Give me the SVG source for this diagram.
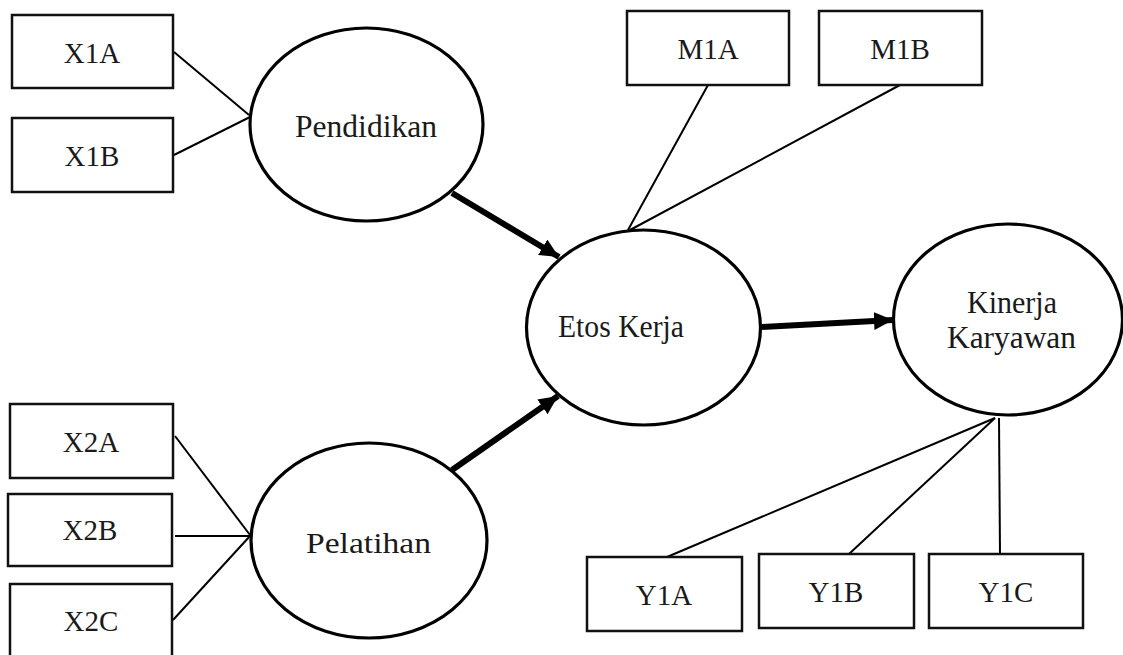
<svg xmlns="http://www.w3.org/2000/svg" width="1123" height="655" viewBox="0 0 1123 655">
<style>
.box{fill:#fff;stroke:#111;stroke-width:2.5}
.ell{fill:#fff;stroke:#000;stroke-width:3.2}
.t{font-family:"Liberation Serif","Times New Roman",serif;font-size:29px;fill:#1a1a1a;text-anchor:middle}
.e{font-size:32px}
.ln{stroke:#000;stroke-width:2;fill:none}
.ar{stroke:#000;stroke-width:6;fill:none;marker-end:url(#ah)}
</style>
<defs>
<marker id="ah" markerUnits="userSpaceOnUse" markerWidth="20" markerHeight="18" refX="19" refY="9" orient="auto">
<path d="M0,0 L19,9 L0,18 Z" fill="#000"/>
</marker>
</defs>
<rect width="1123" height="655" fill="#fff"/>
<g id="connectors">
<line class="ln" x1="174" y1="52" x2="249" y2="115"/>
<line class="ln" x1="174" y1="155" x2="250" y2="117"/>
<line class="ln" x1="175" y1="436" x2="250" y2="535"/>
<line class="ln" x1="175" y1="536" x2="250" y2="536"/>
<line class="ln" x1="173" y1="620" x2="250" y2="536"/>
<line class="ln" x1="708" y1="85" x2="628" y2="230"/>
<line class="ln" x1="900" y1="85" x2="630" y2="230"/>
<line class="ln" x1="995" y1="418" x2="667" y2="557"/>
<line class="ln" x1="995" y1="418" x2="849" y2="554"/>
<line class="ln" x1="999" y1="418" x2="1000" y2="554"/>
<line class="ar" x1="452" y1="193" x2="559" y2="257"/>
<line class="ar" x1="452" y1="470" x2="558" y2="396"/>
<line class="ar" x1="762" y1="327" x2="893" y2="320"/>
</g>
<g id="X1A"><rect class="box" x="12" y="15" width="161" height="73"/><text class="t" x="92" y="63">X1A</text></g>
<g id="X1B"><rect class="box" x="12" y="118" width="161" height="74"/><text class="t" x="92" y="166">X1B</text></g>
<g id="X2A"><rect class="box" x="10" y="404" width="163" height="74"/><text class="t" x="91" y="452">X2A</text></g>
<g id="X2B"><rect class="box" x="8" y="494" width="164" height="72"/><text class="t" x="90" y="540">X2B</text></g>
<g id="X2C"><rect class="box" x="10" y="584" width="162" height="90"/><text class="t" x="91" y="631">X2C</text></g>
<g id="M1A"><rect class="box" x="627" y="11" width="162" height="74"/><text class="t" x="708" y="59">M1A</text></g>
<g id="M1B"><rect class="box" x="819" y="11" width="163" height="74"/><text class="t" x="900" y="59">M1B</text></g>
<g id="Y1A"><rect class="box" x="587" y="557" width="155" height="74"/><text class="t" x="664" y="605">Y1A</text></g>
<g id="Y1B"><rect class="box" x="759" y="554" width="155" height="74"/><text class="t" x="836" y="602">Y1B</text></g>
<g id="Y1C"><rect class="box" x="929" y="554" width="154" height="74"/><text class="t" x="1006" y="602">Y1C</text></g>
<g id="Pendidikan"><ellipse class="ell" cx="366.5" cy="124.5" rx="116.5" ry="96.5"/><text class="t e" x="366" y="137" textLength="142" lengthAdjust="spacingAndGlyphs">Pendidikan</text></g>
<g id="Pelatihan"><ellipse class="ell" cx="369" cy="540.5" rx="118" ry="97.5"/><text class="t" x="368.5" y="553" font-size="35" textLength="125" lengthAdjust="spacingAndGlyphs">Pelatihan</text></g>
<g id="EtosKerja"><ellipse class="ell" cx="643.5" cy="327.5" rx="117" ry="97.5"/><text class="t e" x="621" y="337" textLength="126" lengthAdjust="spacingAndGlyphs">Etos Kerja</text></g>
<g id="KinerjaKaryawan"><ellipse class="ell" cx="1008" cy="319.5" rx="114.5" ry="95.5"/><text class="t e" x="1012" y="313" textLength="90" lengthAdjust="spacingAndGlyphs">Kinerja</text><text class="t e" x="1011.5" y="348" textLength="129" lengthAdjust="spacingAndGlyphs">Karyawan</text></g>
</svg>
